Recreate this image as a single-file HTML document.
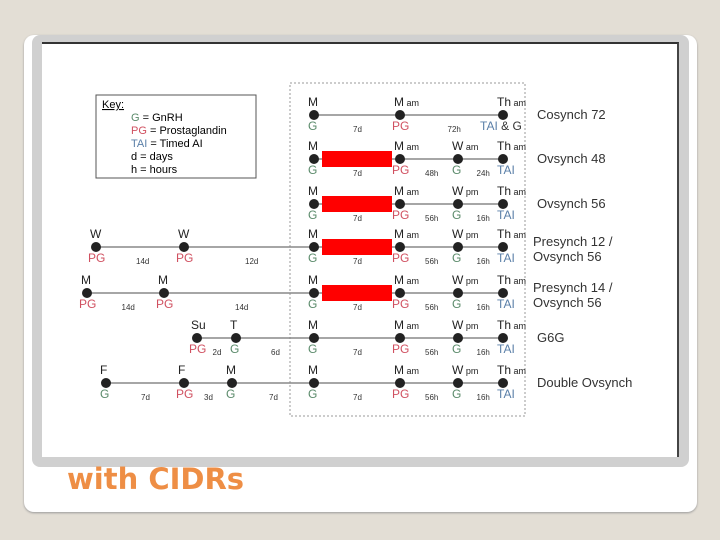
<!DOCTYPE html>
<html><head><meta charset="utf-8"><style>
body{margin:0;width:720px;height:540px;background:#e3ded5;position:relative;overflow:hidden;font-family:"Liberation Sans",sans-serif}
.abs{position:absolute}
#card{left:24px;top:35px;width:673px;height:477px;background:#fff;border-radius:10px;box-shadow:0 1px 2px #999}
#frame{left:32px;top:35px;width:657px;height:432px;background:#d0d0d0;border-radius:8px}
#img{left:42px;top:42px;width:635px;height:413px;background:#fff;border-top:2px solid #333;border-right:2px solid #444}
#title{left:67px;top:462px;font-family:"DejaVu Sans",sans-serif;font-size:29px;font-weight:bold;color:#ee8e45;letter-spacing:0px}
svg text{font-family:"Liberation Sans",sans-serif}
</style></head><body>
<div id="card" class="abs"></div>
<div id="frame" class="abs"></div>
<div id="img" class="abs"></div>
<div id="title" class="abs">with CIDRs</div>
<svg id="chart" class="abs" style="left:0;top:0" width="720" height="540">
<rect x="290" y="83" width="235" height="333" fill="none" stroke="#999" stroke-dasharray="2,2"/>
<g>
<rect x="96" y="95" width="160" height="83" fill="#fff" stroke="#555"/>
<text x="102" y="108" font-size="11" text-decoration="underline">Key:</text>
<text x="131" y="121" font-size="11"><tspan fill="#5a8a6a">G</tspan> = GnRH</text>
<text x="131" y="134" font-size="11"><tspan fill="#d05060">PG</tspan> = Prostaglandin</text>
<text x="131" y="147" font-size="11"><tspan fill="#5a7fa8">TAI</tspan> = Timed AI</text>
<text x="131" y="160" font-size="11">d = days</text>
<text x="131" y="173" font-size="11">h = hours</text>
</g>
</svg>
<script>
const rowNames=["Cosynch 72","Ovsynch 48","Ovsynch 56","Presynch 12 /|Ovsynch 56","Presynch 14 /|Ovsynch 56","G6G","Double Ovsynch"];
const rowY=[115,159,204,247,293,338,383];
const hasCIDR=[false,true,true,true,true,false,false];
// events per row: [x, top label, bottom label, bottom type]
const events=[
 [[314,"M","G","g"],[400,"M|am","PG","p"],[503,"Th|am","TAI & G","t"]],
 [[314,"M","G","g"],[400,"M|am","PG","p"],[458,"W|am","G","g"],[503,"Th|am","TAI","t"]],
 [[314,"M","G","g"],[400,"M|am","PG","p"],[458,"W|pm","G","g"],[503,"Th|am","TAI","t"]],
 [[96,"W","PG","p"],[184,"W","PG","p"],[314,"M","G","g"],[400,"M|am","PG","p"],[458,"W|pm","G","g"],[503,"Th|am","TAI","t"]],
 [[87,"M","PG","p"],[164,"M","PG","p"],[314,"M","G","g"],[400,"M|am","PG","p"],[458,"W|pm","G","g"],[503,"Th|am","TAI","t"]],
 [[197,"Su","PG","p"],[236,"T","G","g"],[314,"M","G","g"],[400,"M|am","PG","p"],[458,"W|pm","G","g"],[503,"Th|am","TAI","t"]],
 [[106,"F","G","g"],[184,"F","PG","p"],[232,"M","G","g"],[314,"M","G","g"],[400,"M|am","PG","p"],[458,"W|pm","G","g"],[503,"Th|am","TAI","t"]]
];
const intervals=[
 ["7d","72h"],["7d","48h","24h"],["7d","56h","16h"],["14d","12d","7d","56h","16h"],
 ["14d","14d","7d","56h","16h"],["2d","6d","7d","56h","16h"],["7d","3d","7d","7d","56h","16h"]
];
const colors={g:"#5a8a6a",p:"#d05060",t:"#5a7fa8"};
const NS="http://www.w3.org/2000/svg";
const svg=document.getElementById('chart');
function mk(tag,attrs,parent){const e=document.createElementNS(NS,tag);for(const k in attrs)e.setAttribute(k,attrs[k]);(parent||svg).appendChild(e);return e;}
rowY.forEach((y,i)=>{
 const g=mk('g',{});
 
 
 const ev=events[i];
 const ln=mk('line',{x1:ev[0][0],x2:ev[ev.length-1][0],y1:y,y2:y,stroke:'#888','stroke-width':1.5},g);
 
 
 ev.forEach((e,j)=>{
  const c=mk('circle',{cx:e[0],cy:y,r:5,fill:'#222'},g);
  
  
  const parts=e[1].split('|');
  const t=mk('text',{x:e[0]-6,y:y-9,'font-size':12,fill:'#222'},g);
  t.textContent=parts[0];
  if(parts[1]){const s=mk('tspan',{'font-size':9},t);s.textContent=' '+parts[1];}
  const b=mk('text',{x:e[0]-(e[3]==='p'?8:6),y:y+15,'font-size':12,fill:colors[e[3]]},g);
  if(e[2]==="TAI & G"){b.innerHTML='TAI <tspan fill="#333">&amp; G</tspan>';b.setAttribute('x',e[0]-23);}
  else b.textContent=e[2];
  if(j<ev.length-1){
   const mx=(e[0]+ev[j+1][0])/2;
   const it=mk('text',{x:mx-4,y:y+17,'font-size':8,fill:'#333'},g);
   it.textContent=intervals[i][j];
  }
 });
 if(hasCIDR[i]){
  const r=mk('rect',{x:322,y:y-8,width:70,height:16,fill:'#f00'},g);
  
  
 }
 const nm=rowNames[i].split('|');
 nm.forEach((n,k)=>{
  const tx=mk('text',{x:nm.length>1?533:537,y:y+(nm.length>1?(k===0?-1:14):4),'font-size':13,fill:'#333'},g);
  tx.textContent=n;
  
  
 });
});
</script>
</body></html>
